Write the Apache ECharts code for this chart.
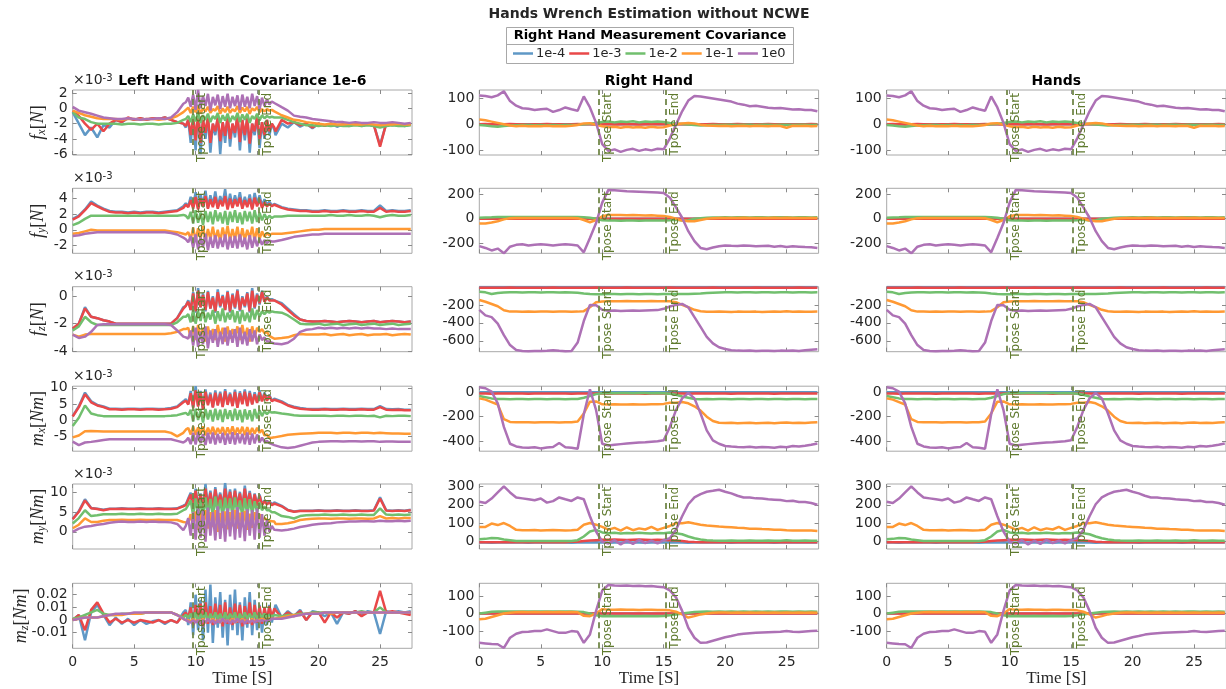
<!DOCTYPE html>
<html><head><meta charset="utf-8">
<script src="https://cdn.jsdelivr.net/npm/echarts@6/dist/echarts.min.js"></script>
<style>html,body{margin:0;padding:0;background:#fff}#c{width:1226px;height:689px}</style>
</head><body><div id="c"></div>
<script>
// ---------- time axes (s) ----------
// right / hands panels
const T = [0,0.5,1,1.5,2,2.5,3,3.5,4,4.5,5,5.5,6,6.5,7,7.5,8,8.5,9,9.5,10,10.5,11,11.5,12,12.5,13,13.5,14,14.5,15,15.5,16,16.5,17,17.5,18,18.5,19,19.5,20,20.5,21,21.5,22,22.5,23,23.5,24,24.5,25,25.5,26,26.5,27,27.5];
// left-hand panels (finer during the T-pose, where the signal is noisy)
const TL = [0,0.5,1,1.5,2,2.5,3,3.5,4,4.5,5,5.5,6,6.5,7,7.5,8,8.5,9,
 9.2,9.4,9.6,9.8,10,10.2,10.4,10.6,10.8,11,11.2,11.4,11.6,11.8,12,12.2,12.4,12.6,12.8,13,13.2,13.4,13.6,13.8,14,14.2,14.4,14.6,14.8,15,15.2,15.4,15.6,15.8,16,16.2,16.4,
 16.5,17,17.5,18,18.5,19,19.5,20,20.5,21,21.5,22,22.5,23,23.5,24,24.5,25,25.5,26,26.5,27,27.5];
const X_TICKS = [0,5,10,15,20,25];
const SERIES_NAMES = ['1e-4','1e-3','1e-2','1e-1','1e0'];
const TPOSE = [9.75, 15.15];

// ---------- LEFT HAND (rows 1-5 in units of 1e-3) ----------
const lFxB=[-0.5,-2.0,-3.5,-2.5,-3.8,-2.2,-2.5,-1.5,-1.8,-1.3,-1.5,-1.3,-1.5,-1.3,-1.4,-1.2,-1.5,-1.8,-2.0,
 -2.5,-1.5,-4.5,-1.0,-5.5,0.5,-6.0,-1.5,-4.0,-1.0,-5.8,-2.0,-3.5,-1.2,-6.0,-1.8,-4.5,-1.0,-5.0,-2.0,
 -3.8,-0.8,-5.5,-1.5,-4.2,-1.2,-5.8,-2.0,-3.5,-1.0,-5.2,-1.8,-4.0,-1.5,-3.5,-2.0,-2.8,
 -3.5,-2.0,-2.5,-1.8,-2.4,-2.0,-2.6,-2.0,-2.3,-2.0,-2.4,-2.1,-2.2,-2.0,-2.3,-2.1,-2.2,-4.8,-2.0,-2.2,-2.1,-2.3,-2.1];
const lFxR=[-0.3,-1.0,-2.0,-2.8,-2.0,-3.0,-2.0,-1.5,-1.8,-1.2,-1.5,-1.3,-1.5,-1.3,-1.4,-1.2,-1.5,-1.8,-2.0,
 -2.3,-1.5,-3.5,-1.2,-4.2,-0.5,-4.5,-1.5,-3.2,-1.0,-4.5,-2.0,-3.0,-1.2,-4.3,-1.8,-3.6,-1.0,-4.0,-2.0,
 -3.2,-0.9,-4.4,-1.5,-3.5,-1.2,-4.6,-2.0,-3.0,-1.0,-4.0,-1.8,-3.5,-1.5,-3.0,-2.0,-2.5,
 -3.0,-1.5,-2.0,-1.8,-2.2,-2.0,-2.5,-2.0,-2.3,-2.0,-2.2,-2.1,-2.3,-2.0,-2.2,-2.1,-2.2,-5.0,-2.0,-2.1,-2.0,-2.2,-2.0];
const lFxG=[-0.5,-1.2,-1.4,-1.8,-2.0,-2.0,-2.0,-2.0,-2.1,-2.0,-2.0,-2.1,-2.0,-2.0,-2.1,-2.0,-2.0,-1.9,-1.5,
 -1.4,-1.0,-1.8,-0.8,-1.7,-0.6,-1.9,-0.9,-1.5,-0.7,-1.8,-1.0,-1.4,-0.6,-1.9,-0.9,-1.6,-0.7,-1.8,-1.0,
 -1.5,-0.6,-1.8,-0.8,-1.5,-0.7,-1.9,-1.0,-1.4,-0.7,-1.6,-0.9,-1.3,-1.0,-1.2,-1.1,-1.2,
 -1.1,-1.2,-1.5,-1.8,-2.0,-2.2,-2.2,-2.3,-2.2,-2.3,-2.2,-2.3,-2.3,-2.2,-2.3,-2.2,-2.3,-2.5,-2.3,-2.2,-2.3,-2.3,-2.2];
const lFxO=[-0.3,-0.6,-0.9,-1.1,-1.3,-1.4,-1.4,-1.4,-1.5,-1.4,-1.4,-1.5,-1.4,-1.4,-1.5,-1.4,-1.3,-1.0,-0.5,
 -0.2,0.1,-0.6,0.2,-0.5,0.3,-0.7,0.0,-0.4,0.2,-0.6,-0.1,-0.3,0.3,-0.7,0.0,-0.5,0.2,-0.6,-0.1,
 -0.4,0.3,-0.6,0.1,-0.4,0.2,-0.7,0.0,-0.3,0.2,-0.5,-0.1,-0.4,-0.1,-0.3,-0.2,-0.4,
 -0.5,-0.9,-1.2,-1.5,-1.6,-1.8,-1.9,-2.0,-2.1,-2.0,-2.1,-2.1,-2.0,-2.1,-2.1,-2.0,-2.1,-2.2,-2.1,-2.1,-2.0,-2.1,-2.1];
const lFxP=[0.2,-0.3,-0.5,-0.7,-0.95,-1.2,-1.3,-1.4,-1.4,-1.3,-1.4,-1.5,-1.4,-1.4,-1.3,-1.4,-1.2,-0.5,0.6,
 0.8,1.4,0.2,1.8,-0.2,2.4,0.0,1.6,0.3,1.9,-0.3,1.5,0.4,1.8,-0.1,1.6,0.2,1.9,0.0,1.5,
 0.3,1.7,-0.2,1.8,0.2,1.5,0.0,1.9,0.3,1.6,-0.1,1.4,0.3,1.2,0.5,0.9,0.7,
 0.8,0.15,-0.3,-0.95,-1.1,-1.2,-1.4,-1.5,-1.6,-1.7,-1.8,-1.8,-1.9,-1.8,-1.9,-1.9,-1.8,-1.9,-1.9,-1.8,-1.9,-2.0,-1.9];

const lFyB=[1.4,1.8,2.6,3.6,3.1,2.7,2.4,2.3,2.3,2.2,2.3,2.2,2.3,2.3,2.2,2.3,2.4,2.5,3.0,
 3.4,3.0,4.2,3.0,4.8,2.7,4.5,3.2,5.0,2.8,4.4,3.1,4.9,2.9,4.3,3.3,5.2,2.8,4.6,3.0,
 4.4,3.2,4.8,2.9,4.2,3.1,4.5,2.8,4.7,3.3,4.4,3.0,3.9,3.2,3.6,3.1,3.3,
 3.2,2.9,2.7,2.6,2.5,2.5,2.4,2.4,2.5,2.4,2.4,2.5,2.4,2.4,2.5,2.4,2.4,3.1,2.4,2.5,2.4,2.4,2.5];
const lFyR=[1.3,1.7,2.5,3.4,3.0,2.6,2.3,2.2,2.2,2.1,2.2,2.1,2.2,2.2,2.1,2.2,2.3,2.4,2.8,
 3.2,2.9,3.8,2.7,4.2,2.6,4.0,3.0,4.3,2.7,3.9,2.9,4.2,2.7,3.8,3.0,4.3,2.6,4.0,2.8,
 3.9,3.0,4.1,2.7,3.8,2.9,4.0,2.6,4.1,3.0,3.9,2.8,3.5,3.0,3.3,3.0,3.2,
 3.1,2.8,2.6,2.5,2.4,2.4,2.3,2.3,2.4,2.3,2.3,2.4,2.3,2.3,2.4,2.3,2.3,2.8,2.3,2.4,2.3,2.3,2.4];
const lFyG=[0.6,0.9,1.4,1.8,1.8,1.8,1.8,1.8,1.8,1.8,1.8,1.8,1.8,1.8,1.8,1.8,1.8,1.8,1.9,
 1.8,1.4,2.3,0.8,2.5,0.9,2.2,0.6,2.4,1.0,2.3,0.7,2.5,1.1,2.2,0.8,2.4,0.6,2.3,1.0,
 2.5,0.9,2.2,0.7,2.4,1.1,2.3,0.8,2.5,1.0,2.2,1.2,2.0,1.4,1.8,1.5,1.7,
 1.6,1.7,1.8,1.8,1.8,1.8,1.8,1.8,1.8,1.9,1.8,1.8,1.9,1.8,1.8,1.9,1.8,1.6,1.8,1.9,1.8,1.8,1.9];
const lFyO=[-0.5,-0.4,-0.2,0.0,-0.1,-0.1,-0.1,-0.1,-0.1,-0.1,-0.1,-0.1,-0.1,-0.1,-0.1,-0.1,-0.2,-0.3,-0.5,
 -0.6,-0.3,-1.2,0.3,-1.4,0.2,-1.1,0.5,-1.5,0.1,-1.2,0.4,-1.3,0.0,-1.5,0.3,-1.1,0.5,-1.4,0.1,
 -1.2,0.4,-1.5,0.2,-1.3,0.0,-1.1,0.4,-1.4,0.2,-1.2,-0.2,-0.9,-0.4,-0.7,-0.5,-0.5,
 -0.6,-0.5,-0.4,-0.3,-0.2,-0.1,0.0,0.0,0.1,0.1,0.1,0.1,0.1,0.1,0.1,0.1,0.1,0.1,0.1,0.1,0.1,0.1,0.1];
const lFyP=[-0.8,-0.7,-0.5,-0.4,-0.3,-0.3,-0.3,-0.3,-0.3,-0.3,-0.3,-0.3,-0.3,-0.3,-0.3,-0.3,-0.4,-0.6,-1.0,
 -1.2,-1.6,-0.8,-2.3,-0.6,-2.5,-1.0,-2.2,-0.5,-2.6,-0.9,-2.3,-0.7,-2.4,-1.0,-2.2,-0.6,-2.5,-0.9,-2.3,
 -0.8,-2.4,-0.6,-2.2,-1.0,-2.5,-0.7,-2.3,-0.9,-2.1,-1.1,-1.9,-1.3,-1.7,-1.4,-1.5,-1.5,
 -1.5,-1.3,-1.1,-0.9,-0.8,-0.7,-0.6,-0.6,-0.5,-0.5,-0.5,-0.5,-0.5,-0.5,-0.5,-0.5,-0.5,-0.5,-0.5,-0.5,-0.5,-0.5,-0.5];

const lFzB=[-2.4,-2.0,-0.8,-1.5,-1.6,-1.75,-1.85,-2.0,-2.0,-2.0,-2.0,-2.0,-2.0,-2.0,-2.0,-2.0,-2.0,-1.6,-0.8,
 -0.7,-0.3,-1.0,0.3,-1.2,0.6,-0.8,0.2,-1.1,0.4,-0.9,0.0,-1.2,0.5,-0.8,0.1,-1.0,0.4,-1.2,0.2,
 -0.9,0.5,-1.1,0.0,-0.8,0.3,-1.2,0.6,-0.9,0.2,-0.6,0.4,-0.4,0.0,-0.3,-0.2,-0.3,
 -0.3,-0.5,-0.9,-1.3,-1.7,-1.8,-1.85,-1.85,-1.8,-1.85,-1.9,-1.85,-1.8,-1.85,-1.9,-1.85,-1.8,-1.9,-1.85,-1.8,-1.85,-1.9,-1.85];
const lFzR=[-2.35,-2.0,-0.9,-1.5,-1.6,-1.75,-1.85,-2.0,-2.0,-2.0,-2.0,-2.0,-2.0,-2.0,-2.0,-2.0,-2.0,-1.6,-0.9,
 -0.7,-0.4,-1.0,0.2,-1.1,0.4,-0.8,0.1,-1.0,0.3,-0.9,-0.1,-1.1,0.3,-0.7,0.0,-1.0,0.3,-1.1,0.1,
 -0.8,0.4,-1.0,-0.1,-0.7,0.2,-1.1,0.4,-0.8,0.1,-0.5,0.3,-0.4,-0.1,-0.3,-0.3,-0.3,
 -0.4,-0.6,-1.0,-1.4,-1.7,-1.8,-1.85,-1.85,-1.8,-1.85,-1.9,-1.85,-1.8,-1.85,-1.9,-1.85,-1.8,-1.9,-1.85,-1.8,-1.85,-1.9,-1.85];
const lFzG=[-2.5,-2.2,-1.5,-1.9,-2.1,-2.1,-2.1,-2.1,-2.1,-2.1,-2.1,-2.1,-2.1,-2.1,-2.1,-2.1,-2.1,-1.9,-1.5,
 -1.5,-1.3,-1.9,-1.0,-2.0,-1.1,-1.8,-0.9,-1.9,-1.2,-1.7,-1.0,-2.0,-1.1,-1.8,-0.9,-1.9,-1.2,-1.7,-1.0,
 -1.9,-1.1,-2.0,-1.0,-1.8,-1.2,-1.9,-0.9,-1.7,-1.0,-1.5,-1.1,-1.3,-1.1,-1.2,-1.1,-1.15,
 -1.1,-1.2,-1.4,-1.7,-2.0,-2.05,-2.05,-2.0,-2.1,-2.05,-2.0,-2.1,-2.05,-2.0,-2.1,-2.05,-2.0,-2.1,-2.05,-2.0,-2.1,-2.05,-2.0];
const lFzO=[-2.8,-2.95,-2.8,-2.75,-2.75,-2.75,-2.75,-2.75,-2.75,-2.75,-2.75,-2.75,-2.75,-2.75,-2.75,-2.75,-2.7,-2.6,-2.4,
 -2.4,-2.3,-3.0,-2.2,-3.2,-2.1,-3.0,-2.3,-3.3,-2.2,-3.1,-2.4,-3.2,-2.1,-3.0,-2.3,-3.3,-2.2,-3.1,-2.4,
 -3.0,-2.2,-3.2,-2.1,-3.1,-2.3,-3.3,-2.2,-3.0,-2.3,-2.6,-2.4,-2.7,-2.6,-2.9,-3.0,-3.1,
 -3.1,-3.05,-3.0,-2.85,-2.75,-2.8,-2.8,-2.8,-2.75,-2.85,-2.8,-2.75,-2.85,-2.8,-2.75,-2.85,-2.8,-2.8,-2.75,-2.85,-2.8,-2.75,-2.8];
const lFzP=[-2.8,-3.05,-2.95,-2.6,-2.1,-2.05,-2.05,-2.05,-2.05,-2.05,-2.05,-2.05,-2.05,-2.05,-2.05,-2.05,-2.1,-2.5,-2.95,
 -3.0,-3.1,-2.5,-3.6,-2.3,-3.7,-2.6,-3.5,-2.2,-3.8,-2.5,-3.4,-2.4,-3.7,-2.6,-3.5,-2.3,-3.6,-2.5,-3.4,
 -2.4,-3.7,-2.3,-3.5,-2.6,-3.6,-2.4,-3.3,-2.5,-3.5,-2.8,-3.2,-3.0,-3.3,-3.3,-3.4,-3.45,
 -3.45,-3.5,-3.4,-3.1,-2.6,-2.45,-2.4,-2.3,-2.35,-2.3,-2.35,-2.3,-2.35,-2.3,-2.35,-2.3,-2.35,-2.35,-2.4,-2.35,-2.4,-2.4,-2.4];

const lMxB=[1.2,4.3,8.5,5.8,4.7,4.2,3.5,3.5,3.4,3.5,3.5,3.4,3.5,3.5,3.4,3.5,3.7,4.2,5.8,
 6.5,5.0,9.0,4.0,10.5,4.5,9.0,3.5,9.5,5.0,8.5,4.0,9.2,4.8,8.8,4.2,9.6,5.0,8.5,4.5,
 9.4,4.0,8.9,5.2,9.5,4.5,9.0,5.0,8.6,5.5,9.2,6.0,8.5,6.2,7.8,6.0,6.6,
 6.2,5.8,4.7,4.1,3.7,3.5,3.4,3.4,3.5,3.4,3.4,3.5,3.4,3.4,3.5,3.4,3.4,4.3,3.4,3.3,3.4,3.2,3.2];
const lMxR=[1.1,4.0,8.0,5.5,4.5,4.0,3.3,3.3,3.2,3.3,3.3,3.2,3.3,3.3,3.2,3.3,3.5,4.0,5.5,
 6.0,4.8,8.3,3.8,9.2,4.2,8.4,3.4,8.8,4.6,7.9,3.9,8.5,4.5,8.2,4.0,8.9,4.7,8.0,4.3,
 8.7,3.8,8.3,4.9,8.8,4.3,8.4,4.8,8.0,5.3,8.6,5.8,8.0,6.0,7.4,5.8,6.3,
 6.0,5.5,4.5,3.9,3.5,3.3,3.2,3.2,3.3,3.2,3.2,3.3,3.2,3.2,3.3,3.2,3.2,4.0,3.2,3.1,3.2,3.0,3.0];
const lMxG=[-1.9,0.7,4.5,2.0,1.5,1.2,1.2,1.2,1.2,1.2,1.2,1.2,1.2,1.2,1.2,1.2,1.3,1.5,2.0,
 2.2,1.5,3.2,-0.5,3.5,0.0,3.0,-0.8,3.4,0.2,3.1,-0.5,3.5,0.0,3.2,-0.6,3.4,0.3,3.0,-0.3,
 3.5,0.0,3.1,-0.7,3.3,0.2,3.0,-0.4,3.4,0.5,3.0,1.2,2.8,1.8,2.6,2.3,2.4,
 2.3,2.0,1.8,1.5,1.3,1.3,1.3,1.3,1.3,1.2,1.3,1.3,1.2,1.3,1.3,1.2,1.3,0.8,1.3,1.2,1.3,1.3,1.2];
const lMxO=[-5.4,-4.8,-3.5,-3.4,-3.5,-3.6,-3.6,-3.6,-3.6,-3.6,-3.6,-3.6,-3.6,-3.6,-3.6,-3.6,-4.0,-5.1,-4.0,
 -3.0,-2.5,-4.5,-2.0,-4.6,-2.3,-4.2,-2.0,-4.8,-2.4,-4.4,-2.1,-4.6,-2.5,-4.2,-2.2,-4.7,-2.3,-4.4,-2.0,
 -4.6,-2.4,-4.3,-2.1,-4.7,-2.2,-4.5,-2.5,-4.3,-2.4,-4.0,-3.0,-4.8,-4.5,-5.6,-5.5,-5.4,
 -5.4,-5.0,-4.6,-4.4,-4.3,-4.2,-4.1,-4.0,-4.0,-4.0,-4.1,-4.0,-4.0,-4.1,-4.0,-4.0,-4.1,-4.0,-4.1,-4.2,-4.2,-4.3,-4.3];
const lMxP=[-6.7,-7.8,-7.0,-6.8,-6.5,-6.2,-6.0,-6.0,-6.0,-6.0,-6.0,-6.0,-6.0,-6.0,-6.0,-6.0,-6.0,-6.5,-7.0,
 -6.5,-5.5,-7.5,-4.0,-7.6,-3.8,-7.2,-4.4,-7.8,-4.0,-7.3,-3.9,-7.6,-4.3,-7.1,-4.0,-7.7,-4.2,-7.4,-3.8,
 -7.6,-4.1,-7.2,-4.3,-7.5,-3.9,-7.7,-4.2,-7.3,-4.5,-7.0,-5.5,-6.8,-6.5,-7.2,-7.5,-7.8,
 -8.0,-8.5,-8.7,-8.5,-8.0,-7.5,-7.0,-6.8,-6.7,-6.6,-6.6,-6.7,-6.6,-6.6,-6.7,-6.6,-6.6,-6.8,-6.7,-6.7,-6.8,-6.8,-6.8];

const lMyB=[3.3,5.3,8.3,6.1,5.9,5.6,5.9,5.9,6.0,5.9,5.9,6.0,5.9,5.9,6.0,5.9,5.9,6.0,6.7,
 7.0,8.5,10.0,6.0,11.0,6.5,9.8,5.8,12.2,6.3,10.5,6.0,11.4,7.0,10.0,6.2,12.5,6.8,10.8,6.0,
 11.0,6.5,10.2,6.0,11.8,6.6,10.4,6.2,9.8,6.8,9.5,7.0,8.0,7.2,7.8,7.0,7.5,
 7.1,6.6,5.6,5.2,5.4,5.4,5.4,5.5,5.4,5.4,5.5,5.4,5.4,5.5,5.4,5.4,5.5,8.8,5.5,5.4,5.5,5.4,5.6];
const lMyR=[3.2,5.1,8.0,6.0,5.8,5.5,5.8,5.8,5.9,5.8,5.8,5.9,5.8,5.8,5.9,5.8,5.8,5.9,6.5,
 6.8,8.2,9.5,5.8,10.5,6.2,9.5,5.6,11.0,6.0,10.0,5.8,10.8,6.7,9.5,6.0,11.0,6.5,10.2,5.8,
 10.5,6.3,9.8,5.8,11.0,6.4,9.9,6.0,9.5,6.6,9.2,6.8,7.8,7.0,7.5,6.8,7.2,
 7.0,6.5,5.5,5.1,5.3,5.3,5.3,5.4,5.3,5.3,5.4,5.3,5.3,5.4,5.3,5.3,5.4,8.5,5.4,5.3,5.4,5.3,5.5];
const lMyG=[2.1,3.5,5.5,4.0,4.2,4.5,4.5,4.5,4.6,4.5,4.5,4.6,4.5,4.5,4.6,4.5,4.5,4.6,5.5,
 5.8,6.8,8.0,4.0,8.5,4.5,8.0,3.5,8.8,4.2,8.4,3.8,9.0,4.5,8.2,3.6,8.7,4.3,8.5,4.0,
 8.8,4.4,8.0,3.8,8.6,4.2,8.3,4.5,7.8,5.0,7.5,5.5,6.5,5.5,5.5,5.0,5.0,
 4.5,4.0,3.8,3.4,4.0,4.2,4.3,4.3,4.4,4.3,4.3,4.4,4.3,4.3,4.4,4.3,4.3,6.0,4.4,4.3,4.4,4.3,4.4];
const lMyO=[0.9,1.8,3.4,2.5,2.5,2.8,3.0,3.0,3.1,3.0,3.0,3.1,3.0,3.0,3.1,3.0,3.0,3.0,2.5,
 2.4,2.2,4.5,1.0,5.2,0.5,4.8,1.5,5.5,0.8,5.0,1.2,5.5,0.0,4.8,1.0,5.2,0.6,5.0,1.4,
 5.6,0.8,4.9,1.2,5.3,0.5,4.6,1.0,5.0,1.8,4.5,2.5,3.5,3.0,2.8,2.7,2.6,
 2.0,2.0,2.2,2.5,3.0,3.2,3.3,3.4,3.4,3.3,3.4,3.4,3.3,3.4,3.4,3.3,3.4,4.0,3.4,3.5,3.4,3.5,3.5];
const lMyP=[0.0,0.8,1.3,1.5,1.8,2.0,2.3,2.5,2.6,2.5,2.5,2.6,2.5,2.6,2.5,2.5,2.4,2.0,0.4,
 1.5,3.5,-1.0,5.0,-2.0,6.0,-1.5,5.5,-2.5,6.2,-1.0,5.0,-2.2,6.5,-1.8,5.2,-2.5,6.0,-1.2,5.5,
 -2.0,6.3,-1.5,5.0,-2.4,5.8,-1.0,5.5,-2.0,6.0,-1.5,4.5,-1.0,3.0,0.0,1.5,0.5,
 0.0,0.3,0.5,0.8,1.2,1.5,1.8,2.0,2.1,2.2,2.4,2.5,2.6,2.6,2.7,2.7,2.6,2.8,2.7,2.7,2.8,2.7,2.8];

// m_z left hand, in N·m
const lMzB=[0.000,0.004,-0.016,0.006,0.012,0.004,-0.004,0.002,-0.003,0.001,-0.004,0.000,-0.003,-0.001,0.000,-0.003,0.000,-0.002,0.006,
 0.008,-0.004,0.014,-0.012,0.020,-0.008,0.016,-0.016,0.024,-0.010,0.028,-0.018,0.018,-0.006,0.022,-0.014,0.016,-0.020,0.020,-0.008,
 0.024,-0.012,0.014,-0.016,0.018,-0.006,0.022,-0.012,0.016,-0.008,0.012,-0.010,0.010,-0.004,0.012,-0.002,0.008,
 0.012,0.002,0.007,0.003,0.008,0.000,0.007,0.006,0.003,0.006,-0.003,0.006,0.005,0.007,0.004,0.007,0.006,-0.011,0.007,0.006,0.007,0.006,0.007];
const lMzR=[0.000,0.004,-0.008,0.008,0.014,0.005,-0.002,0.001,-0.002,0.000,-0.002,0.000,-0.001,-0.002,0.000,-0.002,0.000,-0.002,0.004,
 0.006,0.002,0.010,-0.004,0.012,-0.002,0.013,-0.005,0.014,-0.003,0.011,-0.004,0.013,-0.002,0.012,-0.005,0.014,-0.003,0.010,-0.004,
 0.013,-0.002,0.012,-0.005,0.011,-0.003,0.014,-0.004,0.012,-0.002,0.011,-0.003,0.010,0.000,0.011,0.002,0.009,
 0.010,0.002,0.006,0.003,0.007,0.000,0.006,0.006,-0.002,0.006,0.002,0.006,0.005,0.007,0.003,0.006,0.006,0.023,0.006,0.007,0.006,0.005,0.004];
const lMzG=[0.001,0.002,0.004,0.006,0.008,0.005,0.004,0.004,0.005,0.005,0.005,0.005,0.006,0.006,0.006,0.006,0.006,0.004,0.002,
 0.004,0.002,0.005,0.000,0.006,-0.001,0.005,0.001,0.006,-0.001,0.005,0.000,0.006,0.001,0.005,-0.001,0.006,0.000,0.005,0.001,
 0.006,-0.001,0.005,0.000,0.006,0.001,0.005,0.000,0.006,0.001,0.005,0.002,0.005,0.002,0.004,0.003,0.004,
 0.004,0.003,0.004,0.004,0.005,0.005,0.006,0.006,0.006,0.006,0.006,0.006,0.006,0.006,0.007,0.006,0.006,0.010,0.006,0.006,0.006,0.006,0.006];
const lMzO=[0.000,0.001,0.002,0.002,0.002,0.003,0.004,0.004,0.004,0.005,0.005,0.005,0.006,0.006,0.006,0.006,0.006,0.004,0.001,
 0.000,0.000,-0.001,0.001,-0.001,0.000,-0.001,0.001,-0.002,0.000,-0.001,0.001,-0.001,0.000,-0.002,0.001,-0.001,0.000,-0.001,0.001,
 -0.002,0.000,-0.001,0.001,-0.001,0.000,-0.002,0.001,-0.001,0.000,0.000,0.001,0.000,0.001,0.001,0.001,0.001,
 0.001,0.002,0.003,0.004,0.004,0.005,0.005,0.005,0.006,0.005,0.006,0.006,0.006,0.006,0.006,0.006,0.006,0.006,0.006,0.006,0.006,0.006,0.006];
const lMzP=[0.000,0.001,0.002,0.002,0.002,0.003,0.004,0.005,0.005,0.005,0.006,0.006,0.006,0.006,0.006,0.006,0.006,0.004,0.001,
 0.000,-0.001,-0.002,0.000,-0.002,0.000,-0.003,0.000,-0.002,0.001,-0.002,0.000,-0.003,0.000,-0.002,0.001,-0.002,0.000,-0.003,0.000,
 -0.002,0.001,-0.002,0.000,-0.003,0.000,-0.002,0.000,-0.002,0.000,-0.001,0.000,-0.001,0.000,0.000,0.001,0.001,
 0.001,0.001,0.002,0.003,0.004,0.005,0.005,0.005,0.006,0.006,0.006,0.006,0.006,0.006,0.006,0.006,0.006,0.006,0.006,0.006,0.006,0.006,0.006];

// ---------- RIGHT HAND (same values shown in "Hands") ----------
const rZero=[0,0,0,0,0,0,0,0,0,0,
 0,0,0,0,0,0,0,0,0,0,
 0,0,0,0,0,0,0,0,0,0,
 0,0,0,0,0,0,0,0,0,0,
 0,0,0,0,0,0,0,0,0,0,
 0,0,0,0,0,0];
const rFxR=[0,1,0,-1,0,1,0,0,-1,0,
 0,1,0,0,-1,0,1,0,0,-1,
 0,1,-1,0,1,0,-1,0,1,0,
 0,-1,0,1,0,0,-1,0,1,0,
 0,0,1,0,-1,0,0,1,0,0,
 0,-1,0,0,1,0];
const rFxG=[-3,-5,-8,-10,-7,-5,-4,-3,-3,-4,
 -3,-4,-3,-4,-3,-3,-2,0,2,5,
 8,10,7,10,8,11,7,10,8,10,
 8,5,3,1,-1,-3,-5,-4,-3,-3,
 -2,-2,-3,-2,-2,-3,-2,-2,-3,-2,
 -2,-3,-2,-2,-3,-2];
const rFxO=[18,15,10,5,0,-5,-8,-6,-8,-7,
 -8,-6,-8,-7,-8,-6,-3,3,4,-2,
 -8,-12,-10,-14,-10,-13,-11,-14,-10,-13,
 -12,-5,0,3,5,3,-2,-5,-6,-7,
 -6,-8,-7,-6,-8,-6,-7,-8,-6,-7,
 -14,-6,-7,-6,-8,-7];
const rFxP=[112,110,105,112,128,90,72,62,60,55,
 58,60,48,55,65,58,52,108,65,5,
 -78,-104,-98,-108,-100,-96,-104,-98,-102,-96,
 -98,-55,-2,50,92,110,108,104,100,96,
 92,88,80,76,70,72,68,64,62,63,
 60,57,58,55,55,50];

const rFyG=[8,10,12,15,14,15,14,15,14,15,
 14,15,14,15,14,15,14,12,8,0,
 -12,-15,-14,-16,-15,-14,-16,-15,-14,-15,
 -14,-12,-8,-15,-12,0,5,8,10,11,
 12,11,12,12,11,12,12,11,12,12,
 12,11,12,12,11,12];
const rFyO=[-38,-38,-30,-20,-5,5,6,7,6,7,
 6,7,6,7,6,7,5,-10,-28,-10,
 20,30,31,30,28,30,29,27,28,25,
 22,15,0,-15,-20,-20,-10,0,5,6,
 7,6,7,8,6,7,6,7,8,6,
 9,6,7,6,7,6];
const rFyP=[-220,-235,-255,-240,-278,-225,-210,-205,-215,-210,
 -205,-210,-215,-210,-205,-210,-215,-270,-155,-35,
 130,232,230,226,222,220,218,216,214,212,
 208,170,92,8,-100,-180,-235,-245,-232,-222,
 -215,-218,-220,-215,-218,-222,-220,-218,-225,-220,
 -228,-222,-225,-228,-230,-235];

const rFzR=[-8,-8,-9,-8,-8,-7,-8,-8,-9,-8,
 -8,-8,-7,-8,-8,-9,-8,-8,-8,-7,
 -8,-9,-8,-8,-7,-8,-8,-9,-8,-8,
 -8,-7,-8,-8,-9,-8,-8,-8,-7,-8,
 -8,-9,-8,-8,-8,-7,-8,-8,-9,-8,
 -8,-8,-7,-8,-8,-8];
const rFzG=[-53,-60,-79,-68,-62,-60,-60,-61,-60,-60,
 -61,-60,-60,-61,-60,-62,-65,-72,-78,-82,
 -80,-78,-79,-80,-78,-79,-80,-78,-79,-80,
 -79,-78,-78,-79,-78,-75,-72,-68,-64,-62,
 -60,-60,-61,-60,-60,-61,-60,-60,-61,-60,
 -60,-61,-60,-60,-61,-60];
const rFzO=[-145,-165,-190,-215,-260,-275,-275,-276,-274,-276,
 -275,-274,-276,-275,-274,-276,-275,-270,-226,-171,
 -163,-160,-158,-160,-157,-160,-158,-160,-157,-159,
 -160,-160,-170,-200,-226,-255,-270,-276,-277,-275,
 -276,-278,-275,-277,-276,-275,-278,-276,-275,-277,
 -272,-276,-275,-277,-276,-275];
const rFzP=[-255,-317,-336,-409,-538,-648,-703,-714,-716,-713,
 -715,-712,-705,-712,-716,-714,-620,-380,-200,-205,
 -255,-265,-262,-268,-264,-262,-266,-263,-260,-258,
 -244,-218,-200,-189,-226,-336,-446,-556,-629,-673,
 -692,-705,-710,-712,-708,-714,-711,-712,-715,-710,
 -712,-708,-714,-706,-700,-695];

const rMxR=[-10,-10,-11,-10,-10,-9,-10,-10,-11,-10,
 -10,-10,-9,-10,-10,-11,-10,-10,-10,-9,
 -10,-11,-10,-10,-9,-10,-10,-11,-10,-10,
 -10,-9,-10,-10,-11,-10,-10,-10,-9,-10,
 -10,-11,-10,-10,-10,-9,-10,-10,-11,-10,
 -10,-10,-9,-10,-10,-10];
const rMxG=[-30,-40,-50,-55,-55,-56,-55,-55,-56,-55,
 -55,-56,-55,-55,-56,-55,-55,-45,-30,-15,
 -8,-6,-7,-5,-6,-7,-5,-6,-7,-6,
 -8,-12,-20,-35,-45,-55,-56,-55,-56,-55,
 -55,-56,-55,-55,-56,-55,-55,-56,-55,-55,
 -56,-55,-55,-56,-55,-55];
const rMxO=[-50,-60,-80,-100,-220,-243,-245,-246,-245,-247,
 -245,-246,-245,-247,-246,-245,-240,-174,-77,-75,
 -99,-100,-98,-101,-100,-99,-101,-100,-99,-98,
 -95,-86,-85,-80,-90,-115,-150,-200,-235,-250,
 -252,-250,-253,-251,-250,-254,-252,-250,-253,-250,
 -248,-252,-250,-251,-248,-245];
const rMxP=[41,33,5,-91,-284,-422,-444,-452,-455,-450,
 -460,-452,-448,-416,-450,-455,-463,-180,25,-146,
 -422,-436,-430,-425,-420,-415,-412,-410,-405,-402,
 -394,-284,-146,-50,-5,-50,-174,-312,-394,-422,
 -440,-445,-448,-450,-446,-452,-448,-450,-455,-446,
 -450,-440,-445,-438,-430,-420];

const rMyB=[-5,-5,-6,-5,-5,-4,-5,-5,-6,-5,
 -5,-5,-4,-5,-5,-6,-5,-5,-5,-4,
 -5,-6,-5,-5,-4,-5,-5,-6,-5,-5,
 -5,-4,-5,-5,-6,-5,-5,-5,-4,-5,
 -5,-6,-5,-5,-5,-4,-5,-5,-6,-5,
 -5,-5,-4,-5,-5,-5];
const rMyR=[-3,-4,-3,-4,-3,-4,-3,-4,-3,-2,
 -3,-2,-3,-2,-3,-1,0,3,6,8,
 10,10,11,10,9,10,11,10,9,10,
 9,8,6,3,0,-2,-3,-4,-3,-4,
 -4,-3,-4,-3,-4,-3,-4,-3,-4,-3,
 -4,-3,-4,-3,-4,-3];
const rMyG=[13,15,20,18,12,8,4,3,3,4,
 3,4,3,3,4,3,8,28,55,64,
 50,45,48,44,47,45,48,46,44,47,
 45,50,46,40,28,18,12,8,6,5,
 5,6,5,5,6,5,5,6,5,5,
 7,5,5,6,5,5];
const rMyO=[79,80,98,90,101,85,64,62,62,63,
 61,62,63,62,61,62,65,92,101,92,
 80,65,75,60,78,62,72,66,80,64,
 75,85,101,100,105,98,92,88,85,82,
 80,78,75,74,70,70,68,67,65,65,
 62,61,60,60,60,58];
const rMyP=[217,210,234,267,300,267,240,235,230,225,
 234,212,220,240,230,221,240,230,138,55,
 0,-10,8,-15,5,-12,10,-8,6,-10,
 9,18,64,138,203,240,258,271,276,282,
 271,262,249,240,240,235,234,230,228,226,
 220,222,215,215,210,200];

const rMzG=[0,5,10,11,12,11,12,11,12,11,
 12,11,12,11,12,11,10,8,0,-10,
 -15,-14,-16,-15,-14,-16,-15,-14,-16,-15,
 -14,-10,-5,0,5,8,10,11,10,11,
 10,11,10,11,10,11,10,11,10,11,
 12,10,11,10,11,10];
const rMzO=[-33,-30,-20,-10,0,5,7,8,7,8,
 7,8,7,8,7,8,7,-13,-15,0,
 25,22,21,23,21,22,20,22,21,20,
 20,18,10,-5,-23,-15,-5,0,5,6,
 6,5,6,5,6,5,6,5,6,5,
 6,5,6,5,6,5];
const rMzP=[-167,-170,-173,-175,-196,-138,-115,-105,-104,-100,
 -100,-90,-100,-110,-110,-100,-104,-167,-119,15,
 131,163,160,158,160,157,158,155,156,153,
 150,131,92,15,-81,-138,-167,-165,-155,-145,
 -135,-128,-120,-115,-112,-110,-108,-106,-105,-104,
 -100,-104,-105,-102,-100,-98];

// ---------- tick labels & axis extents ----------
const LEFT_TICKS = [[-6,-4,-2,0,2],[-2,0,2,4],[-4,-2,0],[-5,0,5,10],[0,5,10],[-0.01,0,0.01,0.02]];
// the m_z tick labels are tightly packed: they are shown through two label layers
const LEFT_MZ_LABELS_A = [0.02, 0];
const LEFT_MZ_LABELS_B = [0.01, -0.01];
const RIGHT_TICKS = [[-100,0,100],[-200,0,200],[-600,-400,-200],[-400,-200,0],[0,100,200,300],[-100,0,100]];
const LEFT_RANGE = [[-6.1,2.4],[-3,5.3],[-4.05,0.7],[-9.7,10.5],[-4.4,12.2],[-0.0223,0.029]];
const RIGHT_RANGE = [[-120,133],[-278,245],[-722,3],[-483,50],[-40,313],[-198,172]];
const ROW_NAMES = [['f','x','N'],['f','y','N'],['f','z','N'],['m','x','Nm'],['m','y','Nm'],['m','z','Nm']];
const COL_TITLES = ['Left Hand with Covariance 1e-6','Right Hand','Hands'];

const LEFT_DATA = [
  [lFxB,lFxR,lFxG,lFxO,lFxP],[lFyB,lFyR,lFyG,lFyO,lFyP],[lFzB,lFzR,lFzG,lFzO,lFzP],
  [lMxB,lMxR,lMxG,lMxO,lMxP],[lMyB,lMyR,lMyG,lMyO,lMyP],[lMzB,lMzR,lMzG,lMzO,lMzP]];
const RIGHT_DATA = [
  [rZero,rFxR,rFxG,rFxO,rFxP],[rZero,rZero,rFyG,rFyO,rFyP],[rZero,rFzR,rFzG,rFzO,rFzP],
  [rZero,rMxR,rMxG,rMxO,rMxP],[rMyB,rMyR,rMyG,rMyO,rMyP],[rZero,rZero,rMzG,rMzO,rMzP]];

// ---------- styles / layout ----------
const COLORS = ['#5f98c6','#e94849','#71bf6e','#ff9933','#ad71b5'];
const TXT = '#262626', BOX = '#a8a8a8', TICK = '#8a8a8a';
const COL_LEFT = [72.7, 479.3, 886.7], COL_W = 339.3;
const ROW_TOP = [90, 188.3, 286.7, 386.2, 484, 583.3], ROW_H = 65;
const fmt = v => String(Math.round(v*1e6)/1e6);
const labelStyle = {formatter:fmt, fontSize:14, color:TXT, fontFamily:'DejaVu Sans', margin:5,
  showMinLabel:true, showMaxLabel:true, hideOverlap:false};

const grid=[], xAxis=[], yAxis=[], series=[], graphic=[];
const xTop=[], yRight=[], yExtra=[];
for (let c=0;c<3;c++) for (let r=0;r<6;r++) {
  const g = grid.length;
  const data = c===0 ? LEFT_DATA[r] : RIGHT_DATA[r];
  const times = c===0 ? TL : T;
  const rng = c===0 ? LEFT_RANGE[r] : RIGHT_RANGE[r];
  const ticks = c===0 ? LEFT_TICKS[r] : RIGHT_TICKS[r];
  const split = (c===0 && r===5);
  grid.push({left:COL_LEFT[c], top:ROW_TOP[r], width:COL_W, height:ROW_H, show:true,
    borderColor:BOX, borderWidth:1, backgroundColor:'transparent'});
  xAxis.push({gridIndex:g, type:'value', min:0, max:27.6, position:'bottom',
    axisLine:{show:false, onZero:false}, splitLine:{show:false},
    axisTick:{show:true, inside:true, length:4, customValues:X_TICKS, lineStyle:{color:TICK}},
    axisLabel:{show:r===5, customValues:X_TICKS, formatter:fmt, fontSize:14, color:TXT, fontFamily:'DejaVu Sans', margin:7,
      showMinLabel:true, showMaxLabel:true},
    name: r===5 ? 'Time [S]' : '', nameLocation:'middle', nameGap:21,
    nameTextStyle:{fontFamily:'Liberation Serif', fontSize:17, color:TXT}});
  xTop.push({gridIndex:g, type:'value', min:0, max:27.6, position:'top',
    axisLine:{show:false, onZero:false}, splitLine:{show:false}, axisLabel:{show:false},
    axisTick:{show:true, inside:true, length:4, customValues:X_TICKS, lineStyle:{color:TICK}}});
  const nm = ROW_NAMES[r];
  yAxis.push({gridIndex:g, type:'value', min:rng[0], max:rng[1], position:'left',
    axisLine:{show:false, onZero:false}, splitLine:{show:false},
    axisTick:{show:true, inside:true, length:4, customValues:ticks, lineStyle:{color:TICK}},
    axisLabel:Object.assign({customValues: split ? LEFT_MZ_LABELS_A : ticks}, labelStyle),
    name: c===0 ? '{i|'+nm[0]+'}{s|'+nm[1]+'}{b|[}{i|'+nm[2]+'}{b|]}' : '',
    nameLocation:'middle', nameGap: split ? 42 : 25, nameRotate:90, nameMoveOverlap:false,
    nameTextStyle:{color:TXT, rich:{
      i:{fontFamily:'Liberation Serif', fontStyle:'italic', fontSize:18, color:TXT},
      s:{fontFamily:'Liberation Serif', fontStyle:'italic', fontSize:12, color:TXT, verticalAlign:'bottom'},
      b:{fontFamily:'Liberation Serif', fontSize:18, color:TXT}}}});
  yRight.push({gridIndex:g, type:'value', min:rng[0], max:rng[1], position:'right',
    axisLine:{show:false, onZero:false}, splitLine:{show:false}, axisLabel:{show:false},
    axisTick:{show:true, inside:true, length:4, customValues:ticks, lineStyle:{color:TICK}}});
  if (split) {
    yExtra.push({gridIndex:g, type:'value', min:rng[0], max:rng[1], position:'left',
      axisLine:{show:false, onZero:false}, splitLine:{show:false}, axisTick:{show:false},
      axisLabel:Object.assign({customValues:LEFT_MZ_LABELS_B}, labelStyle)});
  }
  for (let k=0;k<5;k++) {
    const arr = data[k];
    const s = {type:'line', name:SERIES_NAMES[k], xAxisIndex:g, yAxisIndex:g,
      data:times.map((t,i)=>[t, arr[i]]), symbol:'none', showSymbol:false, clip:true,
      color:COLORS[k], lineStyle:{width:2.5, color:COLORS[k]}, itemStyle:{color:COLORS[k]},
      emphasis:{disabled:true}, animation:false, silent:true};
    if (k===4) s.markLine = {silent:true, symbol:['none','none'], animation:false,
      lineStyle:{color:'#72884a', type:[6,4], width:1.8},
      label:{show:true, position:'insideEndBottom', formatter:'{b}', color:'#5f7a2e', fontSize:12,
        fontFamily:'DejaVu Sans', distance:3},
      data:[{name:'Tpose Start', xAxis:TPOSE[0]},{name:'Tpose End', xAxis:TPOSE[1]}]};
    series.push(s);
  }
  if (c===0 && r<5) {
    graphic.push({type:'text', x:73, y:ROW_TOP[r]-17, z:10, style:{
      text:'{a|×10}{b|-3}', rich:{
        a:{fontSize:14, fontFamily:'DejaVu Sans', fill:TXT, color:TXT},
        b:{fontSize:10, fontFamily:'DejaVu Sans', fill:TXT, color:TXT, verticalAlign:'top'}}}});
  }
}
// column titles
COL_TITLES.forEach((t,c)=>graphic.push({type:'text', x:COL_LEFT[c]+COL_W/2, y:81, z:11,
  style:{text:t, font:'bold 14px "DejaVu Sans"', fill:'#000', align:'center', verticalAlign:'middle'}}));
// main title + legend box
graphic.push({type:'text', x:649, y:14, style:{text:'Hands Wrench Estimation without NCWE',
  font:'bold 14px "DejaVu Sans"', fill:TXT, align:'center', verticalAlign:'middle'}});
graphic.push({type:'rect', z:-1, shape:{x:506.5, y:27.5, width:287, height:36},
  style:{fill:'#fff', stroke:BOX, lineWidth:1}});
graphic.push({type:'line', z:-1, shape:{x1:506.5, y1:44.5, x2:793.5, y2:44.5},
  style:{stroke:BOX, lineWidth:1}});
graphic.push({type:'text', x:650, y:36, style:{text:'Right Hand Measurement Covariance',
  font:'bold 13px "DejaVu Sans"', fill:'#000', align:'center', verticalAlign:'middle'}});

const chart = echarts.init(document.getElementById('c'), null, {renderer:'canvas'});
chart.setOption({
  animation:false,
  backgroundColor:'#fff',
  grid, xAxis: xAxis.concat(xTop), yAxis: yAxis.concat(yRight, yExtra), series, graphic,
  legend:{data:SERIES_NAMES, left:513, top:47, icon:'rect', itemWidth:20, itemHeight:2.5, itemGap:4, padding:0,
    selectedMode:false, textStyle:{fontSize:13, color:TXT, fontFamily:'DejaVu Sans', padding:[0,0,0,-2]}}
});
</script></body></html>
